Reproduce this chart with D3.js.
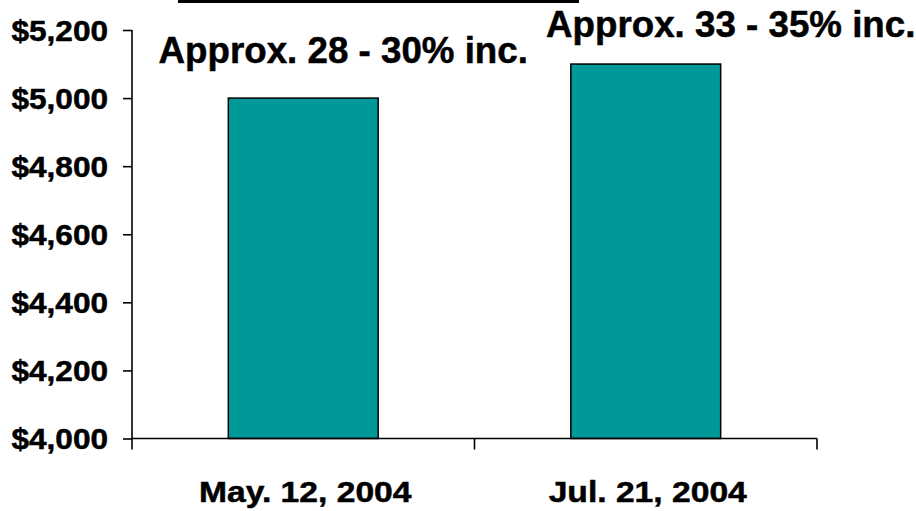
<!DOCTYPE html>
<html><head><meta charset="utf-8">
<script src="https://cdn.jsdelivr.net/npm/d3@7"></script>
<style>body{margin:0;background:#fff}svg{display:block}text{font-family:Arial,"Liberation Sans",sans-serif;font-weight:bold;fill:#000;stroke:#000;stroke-width:0.5px}</style>
</head><body><svg id="c" width="916" height="511"></svg>
<script>
const categories = ["May. 12, 2004", "Jul. 21, 2004"];
const values = [5000, 5100];
const annotations = ["Approx. 28 - 30% inc.", "Approx. 33 - 35% inc."];
const yTicks = [4000, 4200, 4400, 4600, 4800, 5000, 5200];

const svg = d3.select("#c");
const mLeft = 132, mRight = 817, mTop = 30, mBottom = 438.5;

const x = d3.scaleBand().domain(categories).range([mLeft, mRight]).paddingInner(0.5625).paddingOuter(0.28125);
const y = d3.scaleLinear().domain([4000, 5200]).range([mBottom, mTop]);

// widen glyphs horizontally (reference text is slightly stretched)
function stretch(sel, f) {
  sel.each(function () {
    const w = this.getComputedTextLength();
    d3.select(this).attr("textLength", w * f).attr("lengthAdjust", "spacingAndGlyphs");
  });
}

// title underline remnant
svg.append("line").attr("x1", 178).attr("x2", 579).attr("y1", 1.5).attr("y2", 1.5)
  .attr("stroke", "#000").attr("stroke-width", 3);

// bars
svg.selectAll("rect.bar").data(values).join("rect").attr("class", "bar")
  .attr("x", (d, i) => x(categories[i]))
  .attr("width", x.bandwidth())
  .attr("y", d => y(d))
  .attr("height", d => y(4000) - y(d))
  .attr("fill", "#009999").attr("stroke", "#000").attr("stroke-width", 1.5);

// y axis
const yAxis = svg.append("g").attr("transform", `translate(${mLeft},0)`)
  .call(d3.axisLeft(y).tickValues(yTicks).tickSize(9).tickPadding(15)
    .tickFormat(d => "$" + d3.format(",")(d)));
yAxis.select(".domain").attr("d", `M0,${mTop}V${mBottom}`);
yAxis.selectAll("path,line").attr("stroke", "#000").attr("stroke-width", 1.6);
yAxis.selectAll("text").attr("font-size", 29.5).attr("font-family", null).attr("dy", "0.34em").attr("fill", "#000")
  .call(stretch, 1.07);

// x axis
const xEdges = [mLeft, (mLeft + mRight) / 2, mRight];
const xAxisG = svg.append("g");
xAxisG.append("line").attr("x1", mLeft).attr("x2", mRight).attr("y1", mBottom).attr("y2", mBottom)
  .attr("stroke", "#000").attr("stroke-width", 1.6);
xAxisG.selectAll("line.tk").data(xEdges).join("line").attr("class", "tk")
  .attr("x1", d => d).attr("x2", d => d).attr("y1", mBottom).attr("y2", mBottom + 11)
  .attr("stroke", "#000").attr("stroke-width", 1.6);
xAxisG.selectAll("text").data(categories).join("text")
  .attr("x", d => x(d) + x.bandwidth() / 2 + 2)
  .attr("y", 502)
  .attr("text-anchor", "middle")
  .attr("font-size", 29.5)
  .text(d => d)
  .call(stretch, 1.14);

// annotations
const annOffset = [[40, -35], [85, -27]];
svg.selectAll("text.ann").data(annotations).join("text").attr("class", "ann")
  .attr("x", (d, i) => x(categories[i]) + x.bandwidth() / 2 + annOffset[i][0])
  .attr("y", (d, i) => y(values[i]) + annOffset[i][1])
  .attr("text-anchor", "middle")
  .attr("font-size", 36)
  .text(d => d)
  .call(stretch, 1.02);
</script></body></html>
